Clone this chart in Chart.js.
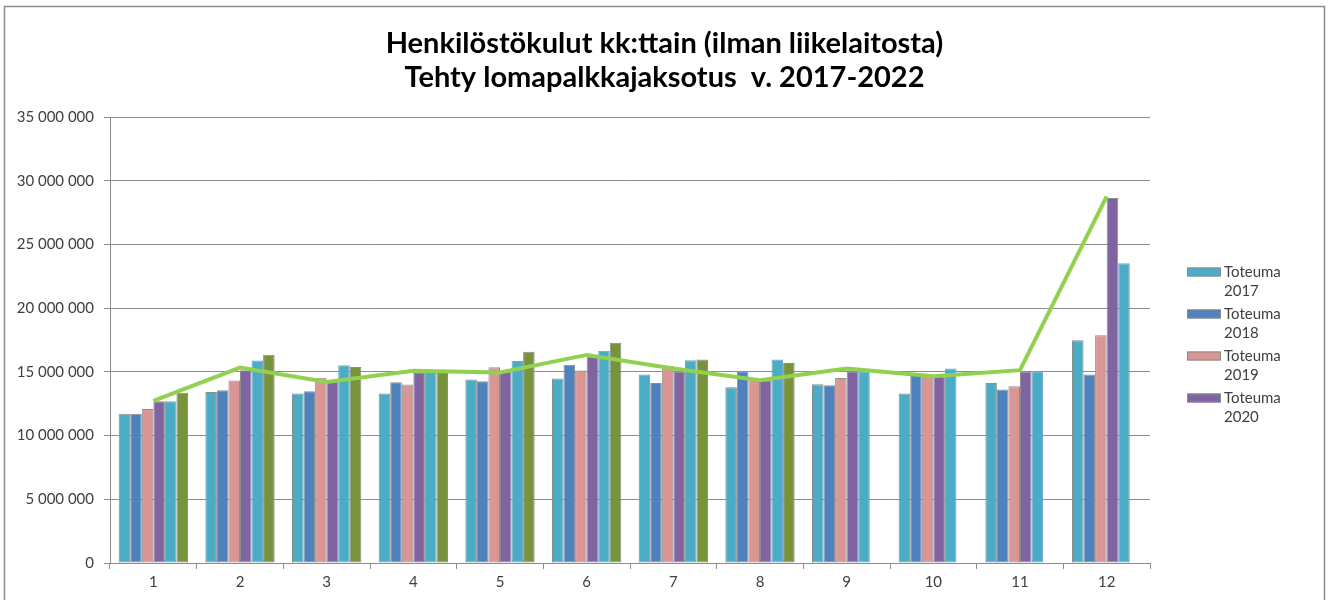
<!DOCTYPE html>
<html>
<head>
<meta charset="utf-8">
<title>Henkilöstökulut kk:ttain</title>
<script src="https://cdn.jsdelivr.net/npm/chart.js@4.4.1/dist/chart.umd.min.js"></script>
<style>
    html, body { margin: 0; padding: 0; background: #fff; }
    #wrap { width: 1329px; height: 600px; }
</style>
</head>
<body>
<div id="wrap"><canvas id="myChart" width="1329" height="600"></canvas></div>
<script>
// Data (euros)
const months = ['1', '2', '3', '4', '5', '6', '7', '8', '9', '10', '11', '12'];
const toteuma2017 = [11720000, 13420000, 13300000, 13300000, 14400000, 14480000, 14790000, 13790000, 14030000, 13300000, 14130000, 17490000];
const toteuma2018 = [11720000, 13560000, 13480000, 14190000, 14270000, 15550000, 14130000, 15050000, 13950000, 14870000, 13610000, 14790000];
const toteuma2019 = [12090000, 14320000, 14530000, 14000000, 15370000, 15100000, 15460000, 14480000, 14520000, 14740000, 13870000, 17880000];
const toteuma2020 = [12690000, 15130000, 14300000, 14920000, 14980000, 16180000, 15050000, 14340000, 15050000, 14600000, 15000000, 28640000];
const toteuma2021 = [12690000, 15900000, 15520000, 14920000, 15860000, 16650000, 15920000, 15970000, 15050000, 15260000, 15050000, 23520000];
const toteuma2022 = [13370000, 16350000, 15390000, 15130000, 16570000, 17280000, 15970000, 15700000, null, null, null, null];
const budjetti = [12720000, 15340000, 14210000, 15080000, 14950000, 16330000, 15260000, 14340000, 15260000, 14660000, 15130000, 28770000];
const yTicks = [0, 5000000, 10000000, 15000000, 20000000, 25000000, 30000000, 35000000];

const titleLines = ['Henkilöstökulut kk:ttain (ilman liikelaitosta)', 'Tehty lomapalkkajaksotus  v. 2017-2022'];
const legendNames = [['Toteuma', '2017'], ['Toteuma', '2018'], ['Toteuma', '2019'], ['Toteuma', '2020']];
const barColors = ['#4BACC6', '#4F81BD', '#D99694', '#8064A2', '#4BACC6', '#77933C'];
const gridGray = '#8c8c8c';
const textColor = '#404040';
const fontFamily = 'Lato, "Open Sans", sans-serif';

function spaced(v) {
    return String(v).replace(/\B(?=(\d{3})+(?!\d))/g, ' ');
}

// white background, outer frame and the two-line title centred on the whole picture
const framePlugin = {
    id: 'frame',
    beforeDraw(chart) {
        const c = chart.ctx;
        c.save();
        c.fillStyle = '#fff';
        c.fillRect(0, 0, chart.width, chart.height);
        c.strokeStyle = gridGray;
        c.lineWidth = 1.5;
        c.strokeRect(4.5, 6.5, chart.width - 9, chart.height + 20);
        c.fillStyle = '#000';
        c.font = 'bold 29px ' + fontFamily;
        c.textAlign = 'center';
        c.textBaseline = 'alphabetic';
        c.fillText(titleLines[0], chart.width / 2, 53);
        c.fillText(titleLines[1], chart.width / 2, 87);
        c.restore();
    }
};

// legend with two-line labels, only the first four series as in the original
const sideLegend = {
    id: 'sideLegend',
    afterDraw(chart) {
        const c = chart.ctx;
        const x = chart.chartArea.right + 37;
        c.save();
        c.font = '15px ' + fontFamily;
        c.textBaseline = 'middle';
        legendNames.forEach((lines, i) => {
            const y = 272 + i * 42;
            c.fillStyle = barColors[i];
            c.fillRect(x, y - 4.5, 34, 9);
            c.strokeStyle = gridGray;
            c.lineWidth = 1;
            c.strokeRect(x + 0.5, y - 4, 33, 8);
            c.fillStyle = textColor;
            c.fillText(lines[0], x + 37, y);
            c.fillText(lines[1], x + 37, y + 19);
        });
        c.restore();
    }
};

function barSet(label, data, i, border) {
    return {
        type: 'bar',
        label: label,
        data: data,
        backgroundColor: barColors[i],
        borderColor: border || gridGray,
        borderWidth: 1,
        borderSkipped: false,
        categoryPercentage: 0.8,
        barPercentage: 1.0,
        order: 1
    };
}

const ctx = document.getElementById('myChart');
new Chart(ctx.getContext('2d'), {
    data: {
        labels: months,
        datasets: [
            {
                type: 'line',
                label: 'Budjetti 2022',
                data: budjetti,
                borderColor: '#92D050',
                borderWidth: 4,
                pointRadius: 0,
                tension: 0,
                order: 0
            },
            barSet('Toteuma 2017', toteuma2017, 0),
            barSet('Toteuma 2018', toteuma2018, 1),
            barSet('Toteuma 2019', toteuma2019, 2),
            barSet('Toteuma 2020', toteuma2020, 3),
            barSet('Toteuma 2021', toteuma2021, 4, '#6f9fd0'),
            barSet('Toteuma 2022', toteuma2022, 5)
        ]
    },
    options: {
        responsive: false,
        animation: false,
        layout: { padding: { top: 117, right: 179, bottom: 0, left: 0 } },
        plugins: {
            legend: { display: false },
            tooltip: { enabled: false },
            title: { display: false }
        },
        scales: {
            x: {
                grid: { display: true, drawOnChartArea: false, drawTicks: true, tickLength: 6, color: gridGray, offset: true },
                border: { color: gridGray, width: 1 },
                ticks: { color: textColor, font: { family: fontFamily, size: 15 }, padding: 4 },
                afterFit(s) { s.height = 37; }
            },
            y: {
                min: 0,
                max: 35000000,
                afterBuildTicks(s) { s.ticks = yTicks.map(v => ({ value: v })); },
                grid: { color: gridGray, tickLength: 6, lineWidth: 1 },
                border: { color: gridGray, width: 1 },
                ticks: {
                    color: textColor,
                    font: { family: fontFamily, size: 15 },
                    padding: 10,
                    callback: v => spaced(v)
                },
                afterFit(s) { s.width = 110; }
            }
        }
    },
    plugins: [framePlugin, sideLegend]
});
</script>
</body>
</html>
